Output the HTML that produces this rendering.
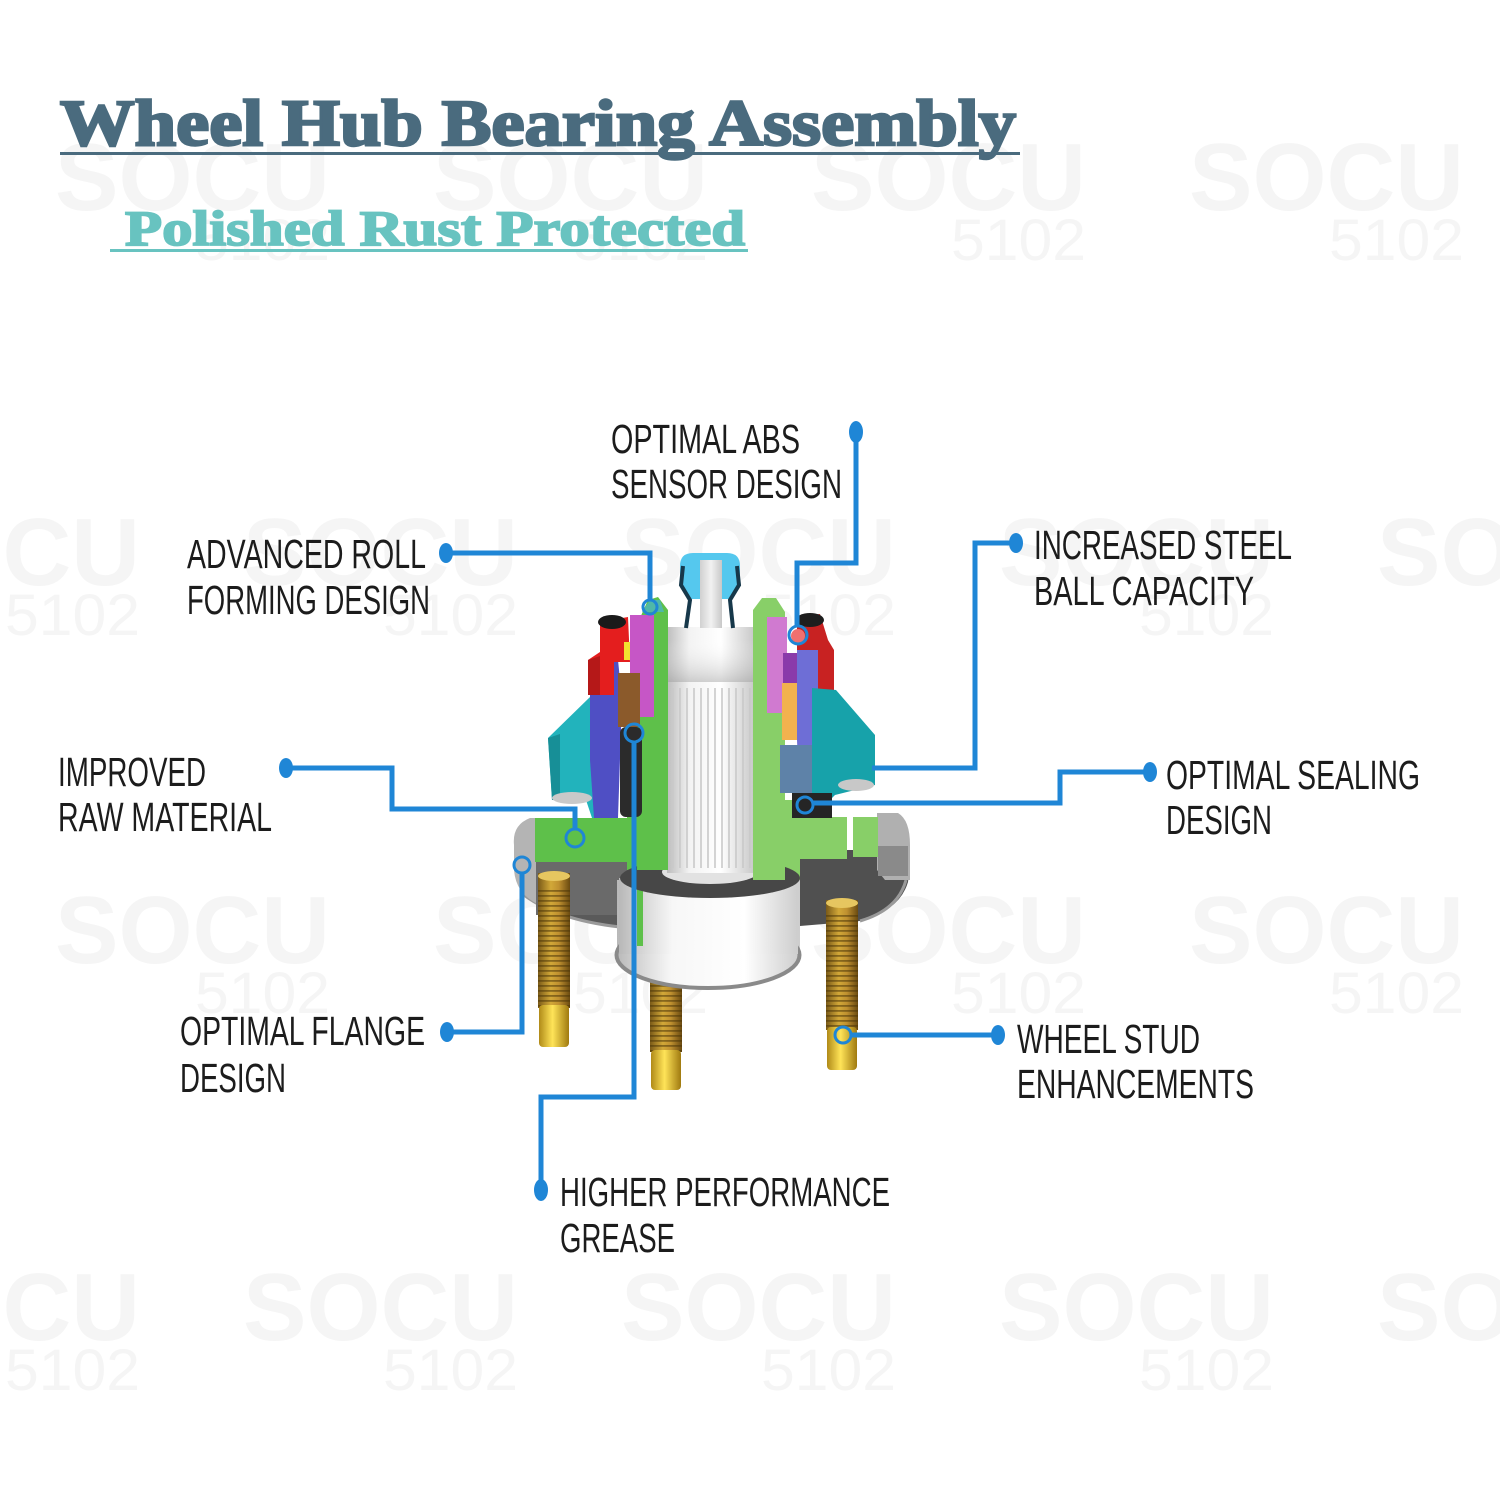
<!DOCTYPE html>
<html><head><meta charset="utf-8"><style>
html,body{margin:0;padding:0;background:#fff;}
svg{display:block}
.lb{font-family:"Liberation Sans",sans-serif;font-size:41px;fill:#1c1c1c;}
.wm{font-family:"Liberation Sans",sans-serif;font-weight:bold;fill:#f5f5f5;}
.wn{font-family:"Liberation Sans",sans-serif;fill:#f5f5f5;}
</style></head><body>
<svg width="1500" height="1500" viewBox="0 0 1500 1500" xmlns="http://www.w3.org/2000/svg">
<defs>
<linearGradient id="shaft" x1="0" x2="1"><stop offset="0" stop-color="#bdbdbd"/><stop offset=".25" stop-color="#f3f3f3"/><stop offset=".6" stop-color="#ffffff"/><stop offset="1" stop-color="#c4c4c4"/></linearGradient>
<linearGradient id="shtop" x1="0" y1="0" x2="0" y2="1"><stop offset="0" stop-color="#ffffff" stop-opacity="0"/><stop offset="1" stop-color="#9a9a9a" stop-opacity=".45"/></linearGradient>
<linearGradient id="gold" x1="0" x2="1"><stop offset="0" stop-color="#7a5a18"/><stop offset=".4" stop-color="#d2a838"/><stop offset=".65" stop-color="#bf9030"/><stop offset="1" stop-color="#6a4a10"/></linearGradient>
<linearGradient id="tip" x1="0" x2="1"><stop offset="0" stop-color="#b08a18"/><stop offset=".45" stop-color="#ffe458"/><stop offset="1" stop-color="#a07a10"/></linearGradient>
<linearGradient id="pilot" x1="0" x2="1"><stop offset="0" stop-color="#b8b8b8"/><stop offset=".14" stop-color="#d8d8d8"/><stop offset=".3" stop-color="#f7f7f7"/><stop offset=".7" stop-color="#ffffff"/><stop offset="1" stop-color="#cdcdcd"/></linearGradient>
<linearGradient id="pin" x1="0" x2="1"><stop offset="0" stop-color="#d0d0d0"/><stop offset=".5" stop-color="#f2f2f2"/><stop offset="1" stop-color="#c8c8c8"/></linearGradient>
<pattern id="thread" width="6" height="5" patternUnits="userSpaceOnUse"><rect width="6" height="1.8" fill="#4a3408" opacity=".55"/></pattern>
</defs>

<!-- watermarks -->
<g>
<text class="wm" x="55" y="210" font-size="96" textLength="275" lengthAdjust="spacingAndGlyphs">SOCU</text>
<text class="wn" x="195" y="260" font-size="58" textLength="135" lengthAdjust="spacingAndGlyphs">5102</text>
<text class="wm" x="433" y="210" font-size="96" textLength="275" lengthAdjust="spacingAndGlyphs">SOCU</text>
<text class="wn" x="573" y="260" font-size="58" textLength="135" lengthAdjust="spacingAndGlyphs">5102</text>
<text class="wm" x="811" y="210" font-size="96" textLength="275" lengthAdjust="spacingAndGlyphs">SOCU</text>
<text class="wn" x="951" y="260" font-size="58" textLength="135" lengthAdjust="spacingAndGlyphs">5102</text>
<text class="wm" x="1189" y="210" font-size="96" textLength="275" lengthAdjust="spacingAndGlyphs">SOCU</text>
<text class="wn" x="1329" y="260" font-size="58" textLength="135" lengthAdjust="spacingAndGlyphs">5102</text>

<text class="wm" x="-135" y="585" font-size="96" textLength="275" lengthAdjust="spacingAndGlyphs">SOCU</text>
<text class="wn" x="5" y="635" font-size="58" textLength="135" lengthAdjust="spacingAndGlyphs">5102</text>
<text class="wm" x="243" y="585" font-size="96" textLength="275" lengthAdjust="spacingAndGlyphs">SOCU</text>
<text class="wn" x="383" y="635" font-size="58" textLength="135" lengthAdjust="spacingAndGlyphs">5102</text>
<text class="wm" x="621" y="585" font-size="96" textLength="275" lengthAdjust="spacingAndGlyphs">SOCU</text>
<text class="wn" x="761" y="635" font-size="58" textLength="135" lengthAdjust="spacingAndGlyphs">5102</text>
<text class="wm" x="999" y="585" font-size="96" textLength="275" lengthAdjust="spacingAndGlyphs">SOCU</text>
<text class="wn" x="1139" y="635" font-size="58" textLength="135" lengthAdjust="spacingAndGlyphs">5102</text>
<text class="wm" x="1377" y="585" font-size="96" textLength="275" lengthAdjust="spacingAndGlyphs">SOCU</text>

<text class="wm" x="55" y="963" font-size="96" textLength="275" lengthAdjust="spacingAndGlyphs">SOCU</text>
<text class="wn" x="195" y="1013" font-size="58" textLength="135" lengthAdjust="spacingAndGlyphs">5102</text>
<text class="wm" x="433" y="963" font-size="96" textLength="275" lengthAdjust="spacingAndGlyphs">SOCU</text>
<text class="wn" x="573" y="1013" font-size="58" textLength="135" lengthAdjust="spacingAndGlyphs">5102</text>
<text class="wm" x="811" y="963" font-size="96" textLength="275" lengthAdjust="spacingAndGlyphs">SOCU</text>
<text class="wn" x="951" y="1013" font-size="58" textLength="135" lengthAdjust="spacingAndGlyphs">5102</text>
<text class="wm" x="1189" y="963" font-size="96" textLength="275" lengthAdjust="spacingAndGlyphs">SOCU</text>
<text class="wn" x="1329" y="1013" font-size="58" textLength="135" lengthAdjust="spacingAndGlyphs">5102</text>

<text class="wm" x="-135" y="1340" font-size="96" textLength="275" lengthAdjust="spacingAndGlyphs">SOCU</text>
<text class="wn" x="5" y="1390" font-size="58" textLength="135" lengthAdjust="spacingAndGlyphs">5102</text>
<text class="wm" x="243" y="1340" font-size="96" textLength="275" lengthAdjust="spacingAndGlyphs">SOCU</text>
<text class="wn" x="383" y="1390" font-size="58" textLength="135" lengthAdjust="spacingAndGlyphs">5102</text>
<text class="wm" x="621" y="1340" font-size="96" textLength="275" lengthAdjust="spacingAndGlyphs">SOCU</text>
<text class="wn" x="761" y="1390" font-size="58" textLength="135" lengthAdjust="spacingAndGlyphs">5102</text>
<text class="wm" x="999" y="1340" font-size="96" textLength="275" lengthAdjust="spacingAndGlyphs">SOCU</text>
<text class="wn" x="1139" y="1390" font-size="58" textLength="135" lengthAdjust="spacingAndGlyphs">5102</text>
<text class="wm" x="1377" y="1340" font-size="96" textLength="275" lengthAdjust="spacingAndGlyphs">SOCU</text>
</g>

<!-- Title -->
<text x="60" y="145" font-family="'Liberation Serif',serif" font-weight="bold" font-size="66" fill="#4a6b7e" stroke="#4a6b7e" stroke-width="2.5" textLength="956" lengthAdjust="spacingAndGlyphs">Wheel Hub Bearing Assembly</text>
<rect x="60" y="152" width="960" height="3" fill="#4a6b7e"/>
<text x="125" y="245" font-family="'Liberation Serif',serif" font-weight="bold" font-size="50" fill="#68c3c0" stroke="#68c3c0" stroke-width="1.8" textLength="620" lengthAdjust="spacingAndGlyphs">Polished Rust Protected</text>
<rect x="110" y="249" width="638" height="3" fill="#68c3c0"/>

<!-- ===== HUB ===== -->
<!-- middle stud (behind pilot) -->
<rect x="650" y="960" width="32" height="92" fill="url(#gold)"/>
<rect x="650" y="960" width="32" height="92" fill="url(#thread)"/>
<rect x="651" y="1050" width="30" height="40" rx="4" fill="url(#tip)"/>

<!-- flange disk -->
<path d="M520,860 L630,860 L630,928 Q560,920 528,898 Q516,885 520,860 Z" fill="#5a5a5a"/>
<path d="M524,895 Q560,922 630,928" fill="none" stroke="#9a9a9a" stroke-width="3"/>
<path d="M514,845 Q512,825 530,818 L540,818 L540,905 Q516,895 514,870 Z" fill="#b4b4b4"/>
<rect x="536" y="855" width="95" height="60" fill="#6a6a6a"/>
<path d="M795,850 L890,850 Q912,858 908,882 Q900,910 860,921 L800,926 Z" fill="#505050"/>
<path d="M906,880 Q898,910 860,921" fill="none" stroke="#9a9a9a" stroke-width="3"/>
<path d="M877,813 L898,813 Q910,820 910,845 L910,880 L885,880 L877,870 Z" fill="#b0b0b0"/>
<rect x="878" y="846" width="30" height="30" fill="#8a8a8a"/>

<!-- green plates -->
<rect x="535" y="818" width="108" height="44" fill="#5ec04a"/>
<rect x="763" y="817" width="84" height="42" fill="#88cf68"/>
<rect x="853" y="817" width="25" height="40" fill="#88cf68"/>

<!-- left / right lower green walls -->
<rect x="627" y="700" width="42" height="170" fill="#5ec04a"/>
<rect x="780" y="800" width="20" height="145" fill="#88cf68"/>

<!-- pilot cylinder -->
<rect x="617" y="880" width="183" height="75" fill="url(#pilot)"/>
<ellipse cx="708" cy="955" rx="91.5" ry="33" fill="url(#pilot)" stroke="#8a8a8a" stroke-width="4"/>
<rect x="619" y="878" width="179" height="76" fill="url(#pilot)"/>
<rect x="637" y="866" width="6" height="80" fill="#5ec04a"/>
<ellipse cx="710" cy="878" rx="90" ry="20" fill="#474747"/>
<ellipse cx="710" cy="872" rx="48" ry="12" fill="#e2e2e2"/>

<!-- shaft -->
<rect x="667" y="627" width="90" height="246" fill="url(#shaft)"/>
<rect x="667" y="640" width="90" height="42" fill="url(#shtop)"/>
<g stroke="#c9c9c9" stroke-width="1.6">
<line x1="673" y1="688" x2="673" y2="868"/><line x1="680" y1="688" x2="680" y2="868"/>
<line x1="687" y1="688" x2="687" y2="868"/><line x1="694" y1="688" x2="694" y2="868"/>
<line x1="701" y1="688" x2="701" y2="868"/><line x1="708" y1="688" x2="708" y2="868"/>
<line x1="715" y1="688" x2="715" y2="868"/><line x1="722" y1="688" x2="722" y2="868"/>
<line x1="729" y1="688" x2="729" y2="868"/><line x1="736" y1="688" x2="736" y2="868"/>
<line x1="743" y1="688" x2="743" y2="868"/><line x1="750" y1="688" x2="750" y2="868"/>
</g>

<!-- left upper green wall -->
<path d="M640,618 L648,600 L658,597 L668,610 L668,870 L637,870 Z" fill="#5ec04a"/>
<path d="M642,612 L650,600 L660,600 L664,612 Z" fill="#4fb8a8"/>

<!-- left assembly -->
<path d="M548,738 L590,697 L600,697 L600,757 L608,757 L608,818 L592,818 L586,800 L552,800 Z" fill="#22b3bc"/>
<path d="M548,738 L560,734 L560,800 L552,800 Z" fill="#178f97"/>
<ellipse cx="572" cy="798" rx="20" ry="6" fill="#c9c9c9"/>
<path d="M590,660 L618,660 L622,700 L618,818 L594,818 L590,760 Z" fill="#4f4fc4"/>
<path d="M600,622 L628,617 L630,662 L614,662 L614,695 L588,695 L588,660 L600,652 Z" fill="#e41e1e"/>
<path d="M588,660 L600,656 L600,695 L588,695 Z" fill="#b51818"/>
<ellipse cx="612" cy="622" rx="14" ry="7" fill="#1a1a1a"/>
<rect x="624" y="642" width="8" height="18" fill="#f2e030"/>
<rect x="630" y="615" width="24" height="102" fill="#c656c6"/>
<rect x="618" y="673" width="22" height="54" fill="#8b5a2b"/>
<rect x="620" y="727" width="22" height="90" rx="6" fill="#2b2b2b"/>

<!-- right upper green wall -->
<path d="M753,610 L762,598 L776,598 L785,612 L785,880 L753,880 Z" fill="#88cf68"/>

<!-- right assembly -->
<rect x="767" y="617" width="20" height="96" fill="#d07ad0"/>
<path d="M797,617 L820,614 L828,640 L834,650 L834,690 L816,690 L816,660 L797,660 Z" fill="#c82222"/>
<ellipse cx="810" cy="620" rx="14" ry="7" fill="#1e1e1e"/>
<circle cx="798" cy="636" r="7" fill="#f07070"/>
<rect x="783" y="653" width="27" height="30" fill="#8a3aaa"/>
<rect x="782" y="683" width="18" height="57" fill="#f2b24e"/>
<path d="M797,650 L818,650 L818,813 L800,813 L797,740 Z" fill="#6e6ed6"/>
<path d="M812,688 L836,690 L875,735 L875,785 L835,795 L818,812 L812,812 Z" fill="#17a2aa"/>
<ellipse cx="856" cy="785" rx="18" ry="6" fill="#c8c8c8"/>
<rect x="780" y="745" width="32" height="48" fill="#5e82a8"/>
<rect x="792" y="793" width="40" height="25" fill="#252525"/>

<!-- cap & pin -->
<path d="M680,566 Q680,553 693,553 L727,553 Q740,553 740,566 L740,585 L729,599 L690,599 L680,585 Z" fill="#55c8ee"/>
<path d="M683,566 L681,585 L690,600 L686,628" fill="none" stroke="#17384a" stroke-width="4"/>
<path d="M737,566 L739,585 L730,600 L733,628" fill="none" stroke="#17384a" stroke-width="4"/>
<rect x="700" y="560" width="22" height="68" fill="url(#pin)"/>

<!-- left & right studs -->
<rect x="538" y="873" width="32" height="135" fill="url(#gold)"/>
<rect x="538" y="890" width="32" height="118" fill="url(#thread)"/>
<ellipse cx="554" cy="876" rx="16" ry="5" fill="#e6c660"/>
<rect x="539" y="1005" width="30" height="42" rx="4" fill="url(#tip)"/>
<rect x="826" y="900" width="32" height="130" fill="url(#gold)"/>
<rect x="826" y="915" width="32" height="115" fill="url(#thread)"/>
<ellipse cx="842" cy="903" rx="16" ry="5" fill="#e6c660"/>
<rect x="827" y="1027" width="30" height="43" rx="4" fill="url(#tip)"/>

<!-- connectors -->
<g fill="none" stroke="#1f86d6" stroke-width="5" stroke-linejoin="miter">
<path d="M856,432 V563 H797 V626"/>
<path d="M446,553 H650 V600"/>
<path d="M1016,543 H975 V768 H872"/>
<path d="M286,768 H392 V809 H575 V830"/>
<path d="M1150,772 H1060 V803 H812"/>
<path d="M447,1032 H522 V873"/>
<path d="M541,1190 V1097 H634 V742"/>
<path d="M998,1035 H851"/>
</g>
<g fill="none" stroke="#1f86d6" stroke-width="3">
<circle cx="798" cy="635" r="9"/>
<circle cx="650" cy="607" r="7"/>
<circle cx="575" cy="838" r="9"/>
<circle cx="805" cy="805" r="8"/>
<circle cx="522" cy="865" r="8"/>
<circle cx="634" cy="733" r="9"/>
<circle cx="843" cy="1035" r="8"/>
</g>
<g fill="#1f86d6">
<ellipse cx="856" cy="432" rx="7" ry="11"/>
<ellipse cx="446" cy="553" rx="7" ry="10"/>
<ellipse cx="1016" cy="543" rx="7" ry="10"/>
<ellipse cx="286" cy="768" rx="7" ry="10"/>
<ellipse cx="1150" cy="772" rx="7" ry="10"/>
<ellipse cx="447" cy="1032" rx="7" ry="10"/>
<ellipse cx="541" cy="1190" rx="7" ry="11"/>
<ellipse cx="998" cy="1035" rx="7" ry="10"/>
</g>

<!-- labels -->
<text class="lb" x="611" y="453" textLength="189" lengthAdjust="spacingAndGlyphs">OPTIMAL ABS</text>
<text class="lb" x="611" y="498" textLength="231" lengthAdjust="spacingAndGlyphs">SENSOR DESIGN</text>
<text class="lb" x="187" y="568" textLength="239" lengthAdjust="spacingAndGlyphs">ADVANCED ROLL</text>
<text class="lb" x="187" y="614" textLength="243" lengthAdjust="spacingAndGlyphs">FORMING DESIGN</text>
<text class="lb" x="1034" y="559" textLength="258" lengthAdjust="spacingAndGlyphs">INCREASED STEEL</text>
<text class="lb" x="1034" y="605" textLength="220" lengthAdjust="spacingAndGlyphs">BALL CAPACITY</text>
<text class="lb" x="58" y="786" textLength="148" lengthAdjust="spacingAndGlyphs">IMPROVED</text>
<text class="lb" x="58" y="831" textLength="214" lengthAdjust="spacingAndGlyphs">RAW MATERIAL</text>
<text class="lb" x="1166" y="789" textLength="254" lengthAdjust="spacingAndGlyphs">OPTIMAL SEALING</text>
<text class="lb" x="1166" y="834" textLength="106" lengthAdjust="spacingAndGlyphs">DESIGN</text>
<text class="lb" x="180" y="1045" textLength="245" lengthAdjust="spacingAndGlyphs">OPTIMAL FLANGE</text>
<text class="lb" x="180" y="1092" textLength="106" lengthAdjust="spacingAndGlyphs">DESIGN</text>
<text class="lb" x="1017" y="1053" textLength="183" lengthAdjust="spacingAndGlyphs">WHEEL STUD</text>
<text class="lb" x="1017" y="1098" textLength="237" lengthAdjust="spacingAndGlyphs">ENHANCEMENTS</text>
<text class="lb" x="560" y="1206" textLength="330" lengthAdjust="spacingAndGlyphs">HIGHER PERFORMANCE</text>
<text class="lb" x="560" y="1252" textLength="115" lengthAdjust="spacingAndGlyphs">GREASE</text>
</svg>
</body></html>
